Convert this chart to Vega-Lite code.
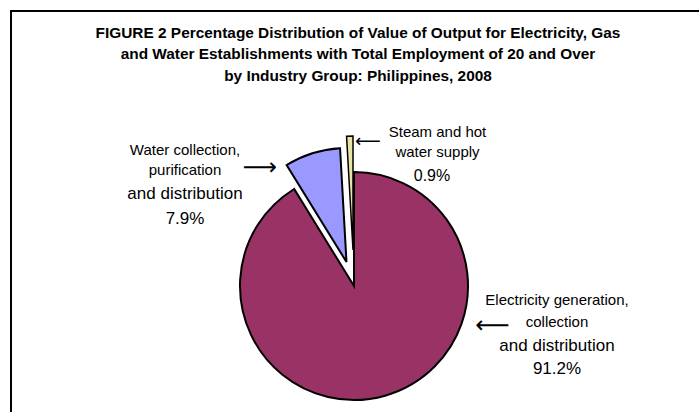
{
  "$schema": "https://vega.github.io/schema/vega-lite/v6.json",
  "width": 688,
  "height": 401,
  "autosize": {"type": "none"},
  "padding": {"left": 11, "top": 11, "right": 0, "bottom": 0},
  "background": "white",
  "config": {
    "view": {"stroke": null},
    "text": {"font": "Liberation Sans", "color": "black"}
  },
  "data": {
    "values": [
      {"group": "Electricity generation, collection and distribution", "value": 91.2, "order": 1, "label1": "Electricity generation,\ncollection", "label2": "and distribution\n91.2%"},
      {"group": "Water collection, purification and distribution", "value": 7.9, "order": 2, "label1": "Water collection,\npurification", "label2": "and distribution\n7.9%"},
      {"group": "Steam and hot water supply", "value": 0.9, "order": 3, "label1": "Steam and hot\nwater supply", "label2": "0.9%"}
    ]
  },
  "transform": [
    {"stack": "value", "groupby": [], "sort": [{"field": "order", "order": "ascending"}], "as": ["v0", "v1"]}
  ],
  "layer": [
    {
      "transform": [{"filter": "datum.order == 1"}],
      "mark": {"type": "rect", "filled": false, "stroke": "black", "strokeWidth": 2},
      "encoding": {
        "x": {"value": 0},
        "x2": {"value": {"expr": "width + 6"}},
        "y": {"value": 0},
        "y2": {"value": {"expr": "height + 6"}}
      }
    },
    {
      "transform": [{"filter": "datum.order == 1"}],
      "mark": {"type": "text", "text": ["FIGURE 2 Percentage Distribution of Value of Output for Electricity, Gas", "and Water Establishments with Total Employment of 20 and Over", "by Industry Group: Philippines, 2008"], "fontSize": 15.4, "fontWeight": "bold", "lineHeight": 21.5, "align": "center", "baseline": "alphabetic", "dx": 3, "dy": -174},
      "encoding": {}
    },
    {
      "transform": [{"filter": "datum.order == 1"}],
      "mark": {"type": "arc", "radius": 114, "stroke": "black", "strokeWidth": 2, "xOffset": -1, "yOffset": 74.5},
      "encoding": {
        "theta": {"field": "v0", "type": "quantitative", "scale": {"domain": [0, 100]}},
        "theta2": {"field": "v1"},
        "color": {"field": "group", "type": "nominal", "legend": null,
          "scale": {"domain": ["Electricity generation, collection and distribution", "Water collection, purification and distribution", "Steam and hot water supply"], "range": ["#993366", "#9999FF", "#E8E4A8"]}}
      }
    },
    {
      "transform": [{"filter": "datum.order == 2"}],
      "mark": {"type": "arc", "radius": 114, "stroke": "black", "strokeWidth": 2, "xOffset": -8.5, "yOffset": 50.5},
      "encoding": {
        "theta": {"field": "v0", "type": "quantitative", "scale": {"domain": [0, 100]}},
        "theta2": {"field": "v1"},
        "color": {"field": "group", "type": "nominal", "legend": null}
      }
    },
    {
      "transform": [{"filter": "datum.order == 3"}],
      "mark": {"type": "arc", "radius": 114, "stroke": "black", "strokeWidth": 1.5, "xOffset": -2, "yOffset": 38.5},
      "encoding": {
        "theta": {"field": "v0", "type": "quantitative", "scale": {"domain": [0, 100]}},
        "theta2": {"field": "v1"},
        "color": {"field": "group", "type": "nominal", "legend": null}
      }
    },
    {
      "transform": [{"filter": "datum.order == 1"}],
      "mark": {"type": "text", "fontSize": 15, "lineHeight": 22, "lineBreak": "\n", "align": "center", "baseline": "alphabetic", "dx": 202, "dy": 93.9},
      "encoding": {"text": {"field": "label1", "type": "nominal"}}
    },
    {
      "transform": [{"filter": "datum.order == 1"}],
      "mark": {"type": "text", "fontSize": 17, "lineHeight": 23, "lineBreak": "\n", "align": "center", "baseline": "alphabetic", "dx": 202, "dy": 139.5},
      "encoding": {"text": {"field": "label2", "type": "nominal"}}
    },
    {
      "transform": [{"filter": "datum.order == 2"}],
      "mark": {"type": "text", "fontSize": 15, "lineHeight": 20, "lineBreak": "\n", "align": "center", "baseline": "alphabetic", "dx": -170, "dy": -56.1},
      "encoding": {"text": {"field": "label1", "type": "nominal"}}
    },
    {
      "transform": [{"filter": "datum.order == 2"}],
      "mark": {"type": "text", "fontSize": 17, "lineHeight": 25, "lineBreak": "\n", "align": "center", "baseline": "alphabetic", "dx": -170, "dy": -12.5},
      "encoding": {"text": {"field": "label2", "type": "nominal"}}
    },
    {
      "transform": [{"filter": "datum.order == 3"}],
      "mark": {"type": "text", "fontSize": 15, "lineHeight": 20, "lineBreak": "\n", "align": "center", "baseline": "alphabetic", "dx": 82.5, "dy": -74.1},
      "encoding": {"text": {"field": "label1", "type": "nominal"}}
    },
    {
      "transform": [{"filter": "datum.order == 3"}],
      "mark": {"type": "text", "fontSize": 16, "lineBreak": "\n", "align": "center", "baseline": "alphabetic", "dx": 77, "dy": -30.7},
      "encoding": {"text": {"field": "label2", "type": "nominal"}}
    },
    {
      "transform": [{"filter": "datum.order == 2"}],
      "mark": {"type": "text", "text": "⟶", "font": "DejaVu Sans", "fontSize": 24, "align": "center", "baseline": "middle", "dx": -95, "dy": -43.5},
      "encoding": {}
    },
    {
      "transform": [{"filter": "datum.order == 1"}],
      "mark": {"type": "text", "text": "⟵", "font": "DejaVu Sans", "fontSize": 24, "align": "center", "baseline": "middle", "dx": 137.5, "dy": 114.5},
      "encoding": {}
    },
    {
      "transform": [{"filter": "datum.order == 3"}],
      "mark": {"type": "text", "text": "⟵", "font": "DejaVu Sans", "fontSize": 18, "align": "center", "baseline": "middle", "dx": 13, "dy": -69.5},
      "encoding": {}
    }
  ]
}
